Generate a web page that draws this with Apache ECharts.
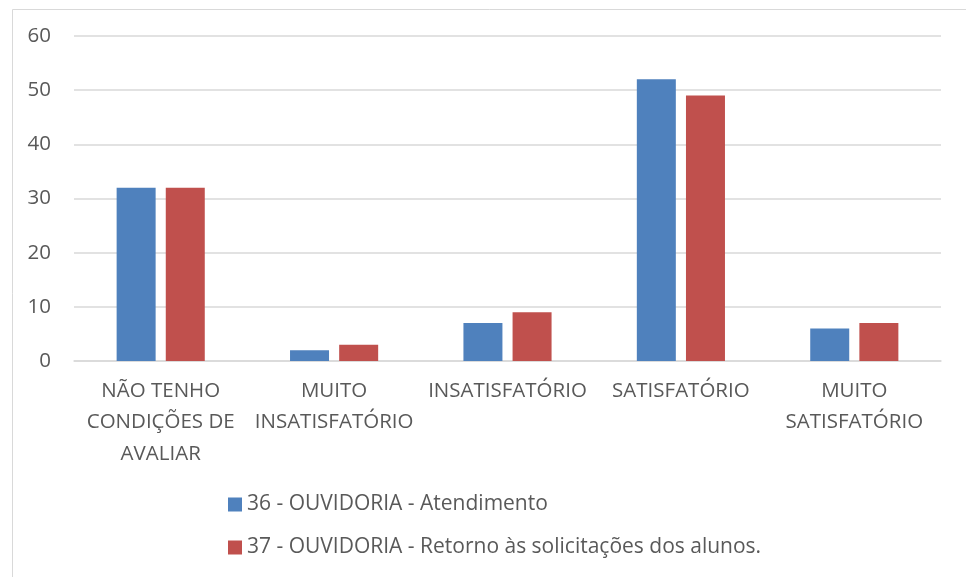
<!DOCTYPE html>
<html>
<head>
<meta charset="utf-8">
<script src="https://cdn.jsdelivr.net/npm/echarts@6/dist/echarts.min.js"></script>
<style>html,body{margin:0;padding:0;background:#fff}#c{width:966px;height:577px}</style>
</head>
<body>
<div id="c"></div>
<script>
const categories = ['NÃO TENHO\nCONDIÇÕES DE\nAVALIAR', 'MUITO\nINSATISFATÓRIO', 'INSATISFATÓRIO', 'SATISFATÓRIO', 'MUITO\nSATISFATÓRIO'];
const seriesNames = ['36 - OUVIDORIA - Atendimento', '37 - OUVIDORIA - Retorno às solicitações dos alunos.'];
const atendimento = [32, 2, 7, 52, 6];
const retorno = [32, 3, 9, 49, 7];
const yTicks = { min: 0, max: 60, interval: 10 };

const font = '"Open Sans", "Liberation Sans", sans-serif';
const chart = echarts.init(document.getElementById('c'), null, { renderer: 'canvas' });
chart.setOption({
  animation: false,
  backgroundColor: '#fff',
  graphic: [{
    type: 'rect', left: 10, top: 7, silent: true,
    shape: { width: 980, height: 600 },
    style: { fill: 'none', stroke: '#d9d9d9', lineWidth: 1 }
  }],
  grid: { left: 74, right: 25, top: 36, bottom: 216 },
  legend: {
    orient: 'vertical', left: 223, top: 489, itemGap: 22,
    itemWidth: 14, itemHeight: 14, icon: 'rect',
    textStyle: { color: '#595959', fontSize: 21, fontFamily: font }
  },
  xAxis: {
    type: 'category', data: categories,
    axisLine: { lineStyle: { color: '#d9d9d9', width: 1.5 } },
    axisTick: { show: false },
    axisLabel: { color: '#595959', fontSize: 20.5, fontFamily: font, lineHeight: 31.5, margin: 14, interval: 0 }
  },
  yAxis: {
    type: 'value', min: yTicks.min, max: yTicks.max, interval: yTicks.interval,
    axisLine: { show: false }, axisTick: { show: false },
    splitLine: { lineStyle: { color: '#d9d9d9', width: 1.5 } },
    axisLabel: { color: '#595959', fontSize: 20.5, fontFamily: font, margin: 23 }
  },
  series: [
    { name: seriesNames[0], type: 'bar', data: atendimento, barWidth: 39, barGap: '26%',
      itemStyle: { color: '#4f81bd' } },
    { name: seriesNames[1], type: 'bar', data: retorno, barWidth: 39,
      itemStyle: { color: '#c0504d' } }
  ]
});
</script>
</body>
</html>
